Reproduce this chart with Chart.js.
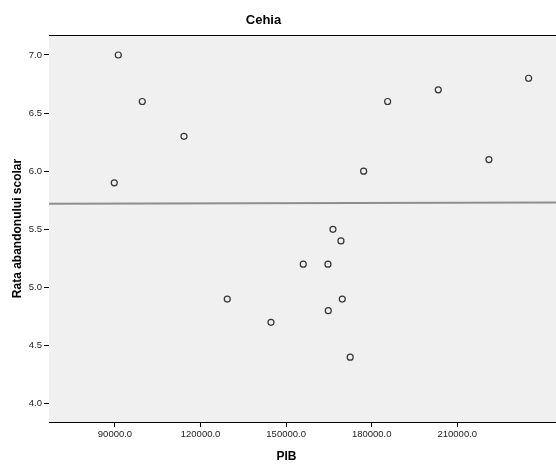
<!DOCTYPE html>
<html>
<head>
<meta charset="utf-8">
<script src="https://cdn.jsdelivr.net/npm/chart.js@4/dist/chart.umd.min.js"></script>
<style>
  html, body { margin: 0; padding: 0; background: #fff; overflow: hidden; }
  #wrap { width: 556px; height: 467px; }
</style>
</head>
<body>
<div id="wrap"><canvas id="canvas_cehia"></canvas></div>
<script>
'use strict';
// PIB (x) si rata abandonului scolar (y)
var pib = [91160, 99570, 114185, 89750, 185580, 203330, 235000, 221090, 177170,
           166410, 169210, 156000, 164660, 129360, 169670, 164770, 144680, 172450];
var rata = [7.0, 6.6, 6.3, 5.9, 6.6, 6.7, 6.8, 6.1, 6.0,
            5.5, 5.4, 5.2, 5.2, 4.9, 4.9, 4.8, 4.7, 4.4];

// linia de regresie (capete)
var fitX = [66870, 244600];
var fitY = [5.72, 5.73];

var xTicks = [90000, 120000, 150000, 180000, 210000];
var yTicks = [4.0, 4.5, 5.0, 5.5, 6.0, 6.5, 7.0];

var titlu  = 'Cehia';
var titluX = 'PIB';
var titluY = 'Rata abandonului scolar';

var puncte = pib.map(function (v, i) { return { x: v, y: rata[i] }; });
var linie  = fitX.map(function (v, i) { return { x: v, y: fitY[i] }; });

var fontFam = '"Liberation Sans", Arial, sans-serif';

var fundal = {
    id : 'fundal',
    beforeDatasetsDraw : function (chart) {
        var a = chart.chartArea, ctx = chart.ctx;
        ctx.save();
        ctx.fillStyle = '#f0f0f0';
        ctx.fillRect(a.left, a.top, a.right - a.left, a.bottom - a.top);
        ctx.strokeStyle = '#000';
        ctx.lineWidth = 1;
        ctx.beginPath();
        ctx.moveTo(a.left, a.top + 0.5);
        ctx.lineTo(a.right, a.top + 0.5);
        ctx.stroke();
        ctx.restore();
    },
    afterDraw : function (chart) {
        var ctx = chart.ctx;
        ctx.save();
        ctx.fillStyle = '#000';
        ctx.textAlign = 'center';
        ctx.textBaseline = 'middle';
        ctx.font = 'bold 13px ' + fontFam;
        ctx.fillText(titlu, 263.5, 20);
        ctx.font = 'bold 12px ' + fontFam;
        ctx.fillText(titluX, 286.5, 457);
        ctx.restore();
    }
};

var dateCehia = {
    type : 'scatter',
    data : {
        datasets : [{
            data : linie,
            type : 'line',
            showLine : true,
            borderColor : '#8e8e8e',
            borderWidth : 2,
            pointRadius : 0,
            fill : false,
            order : 2
        }, {
            data : puncte,
            pointRadius : 3,
            pointBorderWidth : 1.2,
            pointBorderColor : '#333',
            pointBackgroundColor : 'rgba(0,0,0,0)',
            order : 1
        }]
    },
    options : {
        responsive : true,
        maintainAspectRatio : false,
        animation : false,
        layout : { autoPadding : false, padding : { top : 35, left : 0, right : 0, bottom : 0 } },
        plugins : {
            legend  : { display : false },
            tooltip : { enabled : false },
            title   : { display : false }
        },
        scales : {
            x : {
                type : 'linear',
                min : 66870,
                max : 244600,
                afterFit : function (s) { s.height = 45; s.paddingLeft = 0; s.paddingRight = 0; },
                afterBuildTicks : function (s) {
                    s.ticks = xTicks.map(function (v) { return { value : v }; });
                },
                ticks : {
                    color : '#222',
                    font : { family : fontFam, size : 9.5 },
                    padding : 2,
                    maxRotation : 0,
                    callback : function (v) { return Number(v).toFixed(1); }
                },
                grid : { drawOnChartArea : false, drawTicks : true, tickLength : 5, color : '#000' },
                border : { display : true, color : '#000', width : 1 }
            },
            y : {
                type : 'linear',
                min : 3.842,
                max : 7.172,
                afterFit : function (s) { s.width = 49; s.paddingTop = 0; s.paddingBottom = 0; },
                afterBuildTicks : function (s) {
                    s.ticks = yTicks.map(function (v) { return { value : v }; });
                },
                ticks : {
                    color : '#222',
                    font : { family : fontFam, size : 9.5 },
                    padding : 2,
                    callback : function (v) { return Number(v).toFixed(1); }
                },
                grid : { drawOnChartArea : false, drawTicks : true, tickLength : 5, color : '#000' },
                border : { display : true, color : '#000', width : 1 },
                title : {
                    display : true,
                    text : titluY,
                    color : '#000',
                    font : { family : fontFam, size : 12, weight : 'bold' },
                    padding : { top : 10, bottom : 0 }
                }
            }
        }
    },
    plugins : [fundal]
};

var canvasCe = document.getElementById('canvas_cehia').getContext('2d');
window.scatter = new Chart(canvasCe, dateCehia);
</script>
</body>
</html>
